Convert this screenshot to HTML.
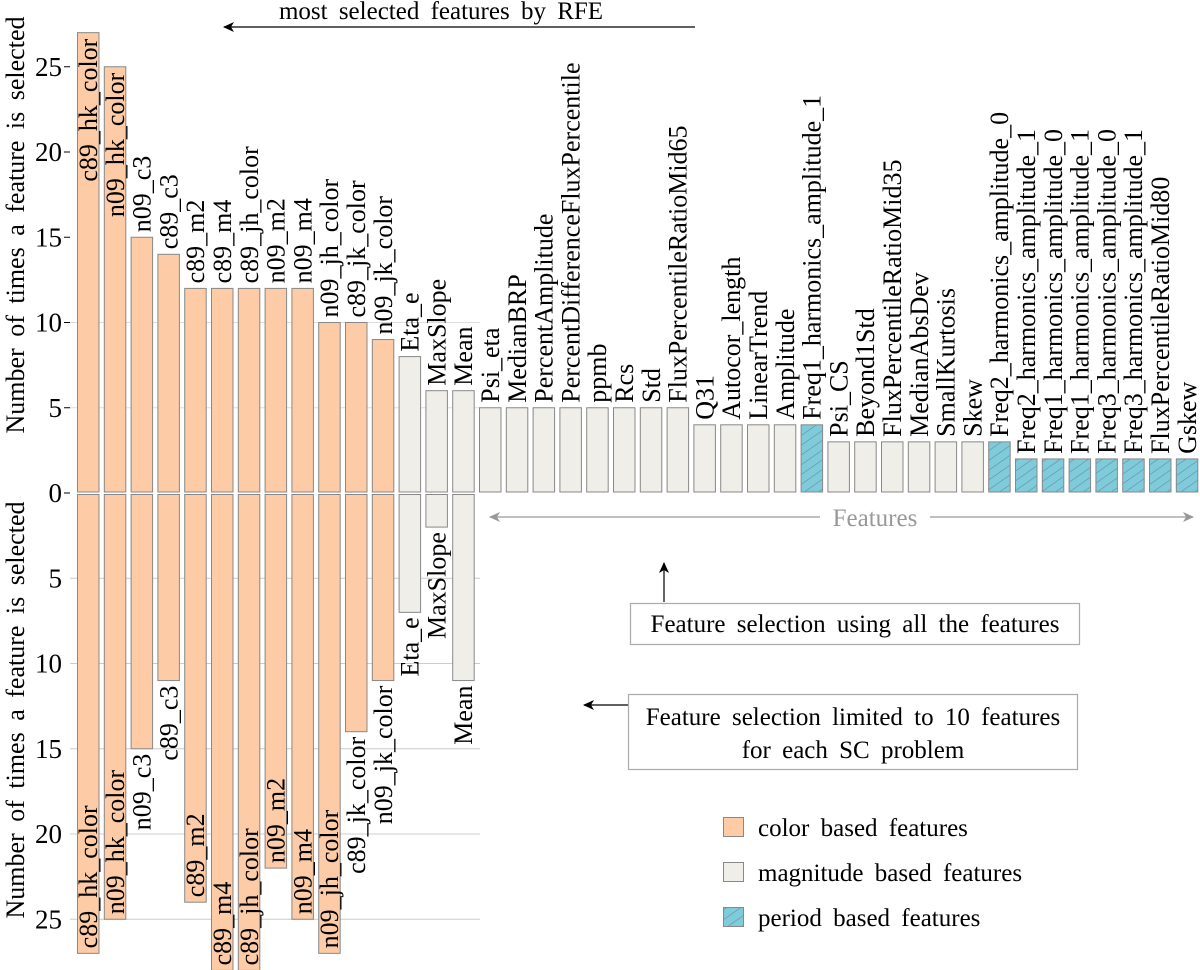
<!DOCTYPE html>
<html><head><meta charset="utf-8"><style>
body{margin:0;background:#fff}
svg{display:block;font-family:"Liberation Serif","DejaVu Serif",serif}
</style></head><body>
<svg id="chart" width="1200" height="970" viewBox="0 0 1200 970" xmlns="http://www.w3.org/2000/svg" font-family="Liberation Serif, DejaVu Serif, serif">
<defs>
<pattern id="hatch" width="8" height="8" patternUnits="userSpaceOnUse" patternTransform="rotate(-35)">
<rect width="8" height="8" fill="#7ecbdc"/><line x1="0" y1="0" x2="8" y2="0" stroke="#6f8a90" stroke-width="1.2"/>
</pattern>
<marker id="ah" markerWidth="12" markerHeight="10" refX="10" refY="5" orient="auto" markerUnits="userSpaceOnUse"><path d="M0,0 L11,5 L0,10 L3,5 Z" fill="#000"/></marker>
<marker id="ahg" markerWidth="12" markerHeight="10" refX="10" refY="5" orient="auto" markerUnits="userSpaceOnUse"><path d="M0,0 L11,5 L0,10 L3,5 Z" fill="#999"/></marker>
</defs>
<g id="grid"></g>
<g id="bars"></g>
<g id="axes"></g>
<text x="441" y="19" font-size="25" text-anchor="middle" word-spacing="5">most selected features by RFE</text>
<line x1="695" y1="27" x2="224" y2="27" stroke="#000" stroke-width="1.2" marker-end="url(#ah)"/>
<text transform="translate(24,225) rotate(-90)" font-size="26" text-anchor="middle" word-spacing="5">Number of times a feature is selected</text>
<text transform="translate(24,710) rotate(-90)" font-size="26" text-anchor="middle" word-spacing="5">Number of times a feature is selected</text>
<line x1="820" y1="517" x2="490" y2="517" stroke="#999" stroke-width="1.2" marker-end="url(#ahg)"/>
<line x1="930" y1="517" x2="1193" y2="517" stroke="#999" stroke-width="1.2" marker-end="url(#ahg)"/>
<text x="875" y="526" font-size="25" fill="#999" text-anchor="middle">Features</text>
<line x1="664" y1="602" x2="664" y2="563" stroke="#000" stroke-width="1.2" marker-end="url(#ah)"/>
<rect x="630.5" y="603.5" width="449" height="41" fill="#fff" stroke="#aaa" stroke-width="1.2"/>
<text x="855" y="632" font-size="25" text-anchor="middle" word-spacing="5">Feature selection using all the features</text>
<line x1="628" y1="705" x2="584" y2="705" stroke="#000" stroke-width="1.2" marker-end="url(#ah)"/>
<rect x="628.5" y="694.5" width="449" height="75" fill="#fff" stroke="#aaa" stroke-width="1.2"/>
<text font-size="25" text-anchor="middle" word-spacing="5"><tspan x="853" y="725">Feature selection limited to 10 features</tspan><tspan x="853" y="758">for each SC problem</tspan></text>
<g>
<rect x="723.5" y="817.5" width="20" height="19" fill="#fdcba5" stroke="#888"/>
<text x="758" y="836" font-size="25" word-spacing="5">color based features</text>
<rect x="723.5" y="862.5" width="20" height="19" fill="#efeee9" stroke="#888"/>
<text x="758" y="881" font-size="25" word-spacing="5">magnitude based features</text>
<rect x="723.5" y="907.5" width="20" height="19" fill="url(#hatch)" stroke="#888"/>
<text x="758" y="926" font-size="25" word-spacing="5">period based features</text>
</g>
</svg>
<script>
const features = ["c89_hk_color","n09_hk_color","n09_c3","c89_c3","c89_m2","c89_m4","c89_jh_color","n09_m2","n09_m4","n09_jh_color","c89_jk_color","n09_jk_color","Eta_e","MaxSlope","Mean","Psi_eta","MedianBRP","PercentAmplitude","PercentDifferenceFluxPercentile","ppmb","Rcs","Std","FluxPercentileRatioMid65","Q31","Autocor_length","LinearTrend","Amplitude","Freq1_harmonics_amplitude_1","Psi_CS","Beyond1Std","FluxPercentileRatioMid35","MedianAbsDev","SmallKurtosis","Skew","Freq2_harmonics_amplitude_0","Freq2_harmonics_amplitude_1","Freq1_harmonics_amplitude_0","Freq1_harmonics_amplitude_1","Freq3_harmonics_amplitude_0","Freq3_harmonics_amplitude_1","FluxPercentileRatioMid80","Gskew"];
const allFeatureCounts = [27,25,15,14,12,12,12,12,12,10,10,9,8,6,6,5,5,5,5,5,5,5,5,4,4,4,4,4,3,3,3,3,3,3,3,2,2,2,2,2,2,2];
const limitedCounts = [27,25,15,11,24,28,28,22,25,27,14,11,7,2,11,0,0,0,0,0,0,0,0,0,0,0,0,0,0,0,0,0,0,0,0,0,0,0,0,0,0,0];
const featureTypes = ["c","c","c","c","c","c","c","c","c","c","c","c","m","m","m","m","m","m","m","m","m","m","m","m","m","m","m","p","m","m","m","m","m","m","p","p","p","p","p","p","p","p"];
const yTicks = [0,5,10,15,20,25];

const NS="http://www.w3.org/2000/svg";
const Y0=493, UNIT=17.05, X0=77, STEP=26.8, BW=21.5;
const xPos=i=>X0+i*STEP;
const yTop=v=>Y0-v*UNIT;
const yBot=v=>Y0+v*UNIT;
const fills={c:"#fdcba5",m:"#efeee9",p:"url(#hatch)"};
function mk(tag,attrs,parent){const e=document.createElementNS(NS,tag);for(const k in attrs)e.setAttribute(k,attrs[k]);parent.appendChild(e);return e;}
const grid=document.getElementById('grid'),bars=document.getElementById('bars'),axes=document.getElementById('axes');

yTicks.forEach(t=>{
  if(t>0&&t<=10){const g=mk('line',{x1:70,x2:480,y1:yTop(t),y2:yTop(t),stroke:"#ddd","stroke-width":1},grid);
  
  }
  if(t>0){const g=mk('line',{x1:70,x2:480,y1:yBot(t),y2:yBot(t),stroke:"#ccc","stroke-width":1},grid);
  
  }
  const a=mk('text',{x:62,y:yTop(t)+9,"font-size":27,"text-anchor":"end"},axes);a.textContent=t;
  
  
  mk('line',{x1:64,x2:70,y1:yTop(t),y2:yTop(t),stroke:"#000"},axes);
  if(t>0){const b=mk('text',{x:62,y:yBot(t)+9,"font-size":27,"text-anchor":"end"},axes);b.textContent=t;
  
  }
});

features.forEach((f,i)=>{
  const x=xPos(i), v=allFeatureCounts[i], w=limitedCounts[i], fill=fills[featureTypes[i]];
  const top=yTop(v);
  const r=mk('rect',{x:x+0.5,y:top,width:BW,height:Y0-1-top,fill:fill,stroke:"#888","stroke-width":1},bars);
  
  
  const inside=v>20;
  const lt=mk('text',{transform:`translate(${x+20},${inside?top+6:top-5}) rotate(-90)`,"font-size":26,"text-anchor":inside?"end":"start"},bars);
  lt.textContent=f;
  
  
  if(w>0){
    const bot=yBot(w);
    const r2=mk('rect',{x:x+0.5,y:Y0+1.5,width:BW,height:bot-Y0-1.5,fill:fill,stroke:"#888","stroke-width":1},bars);
    
    
    const ins=w>20;
    const lb=mk('text',{transform:`translate(${x+20},${ins?bot-5:bot+5}) rotate(-90)`,"font-size":26,"text-anchor":ins?"start":"end"},bars);
    lb.textContent=f;
    
    
  }
});
</script>
</body></html>
